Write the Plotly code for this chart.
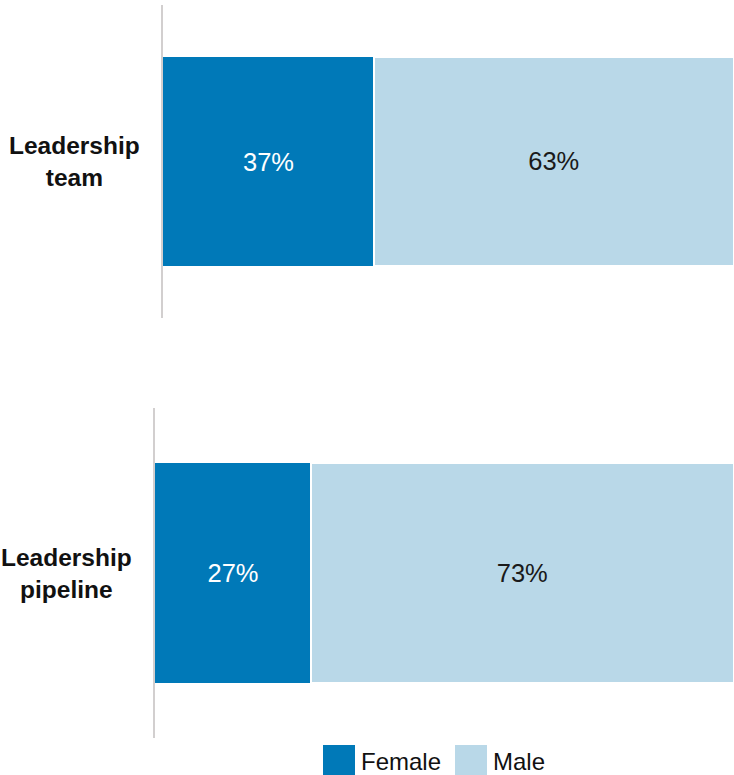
import plotly.graph_objects as go

# ---- data ----
categories = ["Leadership<br>team", "Leadership<br>pipeline"]
female = [37, 27]
male = [63, 73]
series_names = ["Female", "Male"]
colors = ["#0079b8", "#b9d8e8"]
text_colors = ["#ffffff", "#1a1a1a"]

W, H = 734, 775
FONT = "Liberation Sans, Arial, sans-serif"

fig = go.Figure()

axes = [("x", "y"), ("x2", "y2")]
for i, (xa, ya) in enumerate(axes):
    for s, vals in enumerate([female, male]):
        fig.add_trace(go.Bar(
            x=[vals[i]], y=[categories[i]], orientation="h",
            name=series_names[s], xaxis=xa, yaxis=ya,
            marker=dict(color=colors[s],
                        line=dict(color="white", width=0 if s == 0 else 2.5)),
            width=0.668,
            text=[f"{vals[i]}%"], textposition="inside",
            insidetextanchor="middle", textangle=0,
            textfont=dict(color=text_colors[s], size=25.5, family=FONT),
            showlegend=False,
        ))

def ydom(top_px, bot_px):
    return [1 - bot_px / H, 1 - top_px / H]

common_y = dict(showticklabels=False, showline=True, linecolor="#d2cfcf",
                linewidth=1.5, showgrid=False, zeroline=False, ticks="",
                type="category", range=[-0.5, 0.5], fixedrange=True)
common_x = dict(visible=False, range=[0, 100], fixedrange=True)

fig.update_layout(
    width=W, height=H,
    margin=dict(l=0, r=0, t=0, b=0),
    paper_bgcolor="white", plot_bgcolor="white",
    barmode="stack", bargap=0,
    showlegend=False,
    font=dict(family=FONT, size=24, color="#111111"),
    xaxis=dict(domain=[163 / W, 1], anchor="y", **common_x),
    yaxis=dict(domain=ydom(5, 318), anchor="x", **common_y),
    xaxis2=dict(domain=[155 / W, 1], anchor="y2", **common_x),
    yaxis2=dict(domain=ydom(408, 738), anchor="x2", **common_y),
)

# category labels
for i, (xa, ya) in enumerate(axes):
    fig.add_annotation(
        text=f"<b>{categories[i]}</b>", xref=f"{xa} domain", yref=ya,
        x=0, y=categories[i], xanchor="right", yanchor="middle",
        xshift=-21, align="center", showarrow=False,
        font=dict(size=24.5, family=FONT, color="#111111"),
    )

# legend (drawn manually for large swatches)
legend_x = [323, 455]
for s, name in enumerate(series_names):
    x0 = legend_x[s]
    fig.add_shape(type="rect", xref="paper", yref="paper",
                  x0=x0 / W, x1=(x0 + 32) / W,
                  y0=1 - 778 / H, y1=1 - 745 / H,
                  fillcolor=colors[s], line=dict(width=0))
    fig.add_annotation(text=name, xref="paper", yref="paper",
                       x=(x0 + 36) / W, y=1 - 761 / H,
                       xanchor="left", yanchor="middle", showarrow=False,
                       font=dict(size=24, family=FONT, color="#111111"))

fig.write_html(
    "out.html",
    config={"displayModeBar": False},
    post_script="document.body.style.margin='0';document.body.style.padding='0';document.body.style.overflow='hidden';",
)
